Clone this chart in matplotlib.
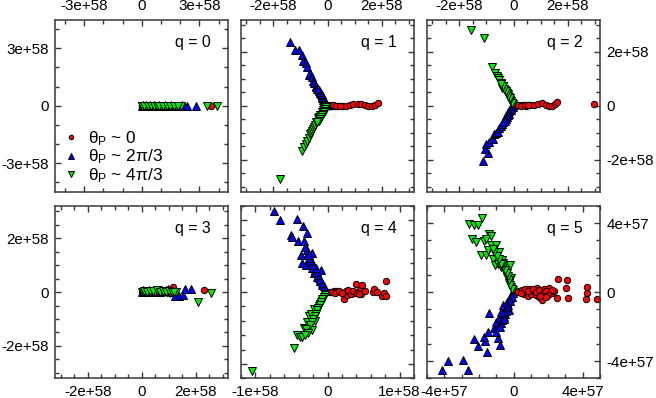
import matplotlib
matplotlib.use('Agg')
import matplotlib.pyplot as plt
from matplotlib.ticker import MultipleLocator, FuncFormatter

plt.rcParams['font.family'] = ['Liberation Sans', 'DejaVu Sans']
plt.rcParams['mathtext.fontset'] = 'custom'
plt.rcParams['mathtext.rm'] = 'Liberation Sans'
plt.rcParams['mathtext.it'] = 'Liberation Sans'
plt.rcParams['mathtext.bf'] = 'Liberation Sans:bold'

# ---- data (units given per panel) ----
q_values = [0, 1, 2, 3, 4, 5]
units = [1e58, 1e58, 1e58, 1e58, 1e58, 1e57]

# q = 0
q0_red_x = [0.0, 0.05, 0.1, 0.15, 0.2, 0.3, 0.4, 0.5, 0.6, 0.75, 0.9, 1.05, 1.2, 1.4, 1.6, 1.8, 3.61,
            0.02, 0.08, 0.25, 0.35, 0.45, 0.55, 0.68, 0.82, 0.97, 1.12, 1.3, 1.5, 1.7, 1.9, 2.0]
q0_red_y = [0.0, 0.01, -0.01, 0.0, 0.01, 0.0, -0.01, 0.01, 0.0, 0.01, 0.0, -0.01, 0.0, 0.01, 0.0, 0.0, 0.0,
            0.01, 0.0, -0.01, 0.01, 0.0, -0.01, 0.0, 0.01, 0.0, -0.01, 0.01, 0.0, -0.01, 0.0, 0.01]
q0_blue_x = [0.02, 0.1, 0.2, 0.35, 0.5, 0.65, 0.8, 1.0, 1.2, 1.4, 1.6, 1.8, 1.95, 2.1, 2.19, 2.37, 2.84,
             0.05, 0.15, 0.27, 0.42, 0.57, 0.72, 0.9, 1.1, 1.3, 1.5, 1.7, 1.88, 2.03]
q0_blue_y = [0.01, 0.0, 0.02, 0.01, 0.0, 0.02, 0.01, 0.0, 0.02, 0.01, 0.0, 0.01, 0.0, 0.02, 0.0, 0.0, 0.01,
             0.02, 0.01, 0.0, 0.02, 0.01, 0.0, 0.02, 0.01, 0.0, 0.02, 0.01, 0.0, 0.01]
q0_green_x = [0.0, 0.08, 0.2, 0.39, 0.55, 0.7, 0.84, 1.0, 1.23, 1.4, 1.54, 1.79, 2.02, 3.37, 3.89,
              0.03, 0.14, 0.3, 0.47, 0.62, 0.77, 0.92, 1.12, 1.32, 1.47, 1.66, 1.9]
q0_green_y = [0.0, -0.01, 0.0, -0.01, 0.0, -0.01, 0.0, -0.01, 0.0, 0.0, -0.01, 0.0, -0.01, 0.0, 0.0,
              -0.01, 0.0, -0.01, 0.0, -0.01, 0.0, -0.01, 0.0, -0.01, 0.0, -0.01, 0.0]

# q = 1
q1_red_x = [0.02, 0.08, 0.15, 0.27, 0.40, 0.54, 0.67, 0.83, 0.95, 1.14, 1.23, 1.38, 1.51, 1.63, 1.75, 1.88,
            0.05, 0.12, 0.20, 0.33, 0.47]
q1_red_y = [0.0, 0.0, 0.0, 0.0, -0.01, -0.01, 0.0, 0.02, 0.05, 0.06, 0.06, 0.04, 0.0, 0.0, 0.02, 0.10,
            0.0, 0.0, 0.01, -0.01, 0.0]
q1_blue_x = [-1.40, -1.19, -1.06, -0.96, -0.89, -0.79, -0.77, -0.69, -0.65, -0.59, -0.53, -0.50, -0.44,
             -0.41, -0.37, -0.33, -0.28, -0.25, -0.22, -0.19, -0.16, -0.13, -0.10, -0.06, -0.03, -0.01,
             -0.04, -0.08, -0.12, -0.15, -0.18, -0.21, -0.24, -0.27, -0.30, -0.35]
q1_blue_y = [2.35, 2.06, 2.06, 1.88, 1.67, 1.57, 1.42, 1.14, 1.20, 1.05, 0.93, 0.85, 0.74,
             0.68, 0.62, 0.55, 0.47, 0.42, 0.35, 0.30, 0.22, 0.18, 0.12, 0.07, 0.04, 0.01,
             0.08, 0.15, 0.22, 0.27, 0.33, 0.40, 0.45, 0.50, 0.57, 0.63]
q1_green_x = [-1.77, -0.94, -0.88, -0.80, -0.74, -0.70, -0.65, -0.60, -0.57, -0.52, -0.49, -0.45,
              -0.42, -0.35, -0.31, -0.27, -0.20, -0.16, -0.12, -0.06, -0.02,
              -0.04, -0.08, -0.11, -0.14, -0.18, -0.22, -0.25, -0.29, -0.33, -0.38]
q1_green_y = [-2.72, -1.67, -1.54, -1.42, -1.30, -1.18, -1.05, -1.00, -0.93, -0.86, -0.78, -0.70,
              -0.62, -0.47, -0.41, -0.35, -0.22, -0.16, -0.10, -0.05, -0.02,
              -0.06, -0.12, -0.18, -0.24, -0.30, -0.36, -0.42, -0.50, -0.55, -0.62]

# q = 2
q2_red_x = [0.03, 0.10, 0.21, 0.36, 0.46, 0.62, 0.77, 0.89, 1.04, 1.20, 1.32, 1.44, 1.53, 1.60, 2.96,
            0.06, 0.15, 0.28, 0.41, 0.54]
q2_red_y = [0.0, 0.0, 0.02, 0.02, 0.0, 0.04, 0.02, 0.06, 0.09, 0.02, -0.02, 0.0, 0.05, 0.15, 0.07,
            0.0, 0.01, 0.0, 0.01, 0.02]
q2_blue_x = [-1.11, -0.96, -1.06, -1.01, -0.90, -0.74, -0.72, -0.65, -0.59, -0.52, -0.47, -0.43,
             -0.35, -0.31, -0.27, -0.20, -0.12, -0.06,
             -0.03, -0.08, -0.10, -0.15, -0.17, -0.22, -0.25, -0.29, -0.33, -0.38]
q2_blue_y = [-2.04, -1.75, -1.60, -1.42, -1.33, -1.23, -1.05, -1.00, -0.96, -0.84, -0.76, -0.68,
             -0.52, -0.45, -0.37, -0.25, -0.12, -0.05,
             -0.04, -0.09, -0.16, -0.20, -0.30, -0.33, -0.42, -0.48, -0.58, -0.62]
q2_green_x = [-1.58, -1.09, -0.80, -0.68, -0.62, -0.57, -0.53, -0.47, -0.42, -0.37, -0.31, -0.27,
              -0.22, -0.16, -0.10, -0.05,
              -0.03, -0.07, -0.12, -0.14, -0.19, -0.24, -0.29, -0.34, -0.40, -0.45]
q2_green_y = [2.81, 2.53, 1.42, 1.23, 1.11, 1.02, 0.96, 0.86, 0.66, 0.72, 0.59, 0.50,
              0.43, 0.31, 0.19, 0.10,
              0.05, 0.12, 0.22, 0.27, 0.36, 0.46, 0.55, 0.63, 0.72, 0.80]

# q = 3
q3_red_x = [0.02, 0.10, 0.20, 0.30, 0.40, 0.55, 0.70, 0.85, 1.00, 1.17, 2.30,
            0.05, 0.15, 0.25, 0.35, 0.48, 0.62, 0.78, 0.92, 1.08]
q3_red_y = [0.0, 0.01, -0.01, 0.02, 0.0, 0.01, 0.03, 0.02, 0.0, 0.19, 0.09,
            0.02, -0.02, 0.03, -0.01, 0.03, -0.02, 0.04, -0.01, 0.05]
q3_blue_x = [0.02, 0.10, 0.20, 0.30, 0.45, 0.60, 0.75, 0.90, 1.00, 1.10, 1.21, 1.36, 1.51, 1.60, 1.83,
             0.05, 0.15, 0.25, 0.38, 0.52, 0.68, 0.82, 0.96, 1.15]
q3_blue_y = [0.02, 0.04, 0.03, 0.05, 0.04, 0.03, 0.06, 0.08, 0.05, 0.02, -0.16, -0.16, -0.12, 0.10, 0.10,
             0.06, 0.0, 0.07, 0.01, 0.08, 0.0, 0.05, 0.10, 0.03]
q3_green_x = [0.0, 0.05, 0.12, 0.25, 0.35, 0.49, 0.60, 0.74, 0.85, 0.95, 1.05, 1.26, 2.07, 2.57,
              0.08, 0.18, 0.30, 0.42, 0.55, 0.67, 0.80, 0.90, 1.00, 1.12, 1.20]
q3_green_y = [0.0, 0.02, -0.01, 0.0, 0.02, 0.0, 0.03, 0.0, 0.05, 0.02, -0.02, 0.0, -0.37, -0.02,
              0.04, 0.01, 0.05, 0.03, 0.06, 0.02, 0.04, 0.0, 0.04, 0.0, 0.02]

# q = 4
q4_red_x = [0.03, 0.09, 0.13, 0.18, 0.23, 0.25, 0.27, 0.30, 0.34, 0.37, 0.39, 0.42, 0.45, 0.48,
            0.47, 0.63, 0.64, 0.68, 0.75, 0.78, 0.81, 0.81,
            0.06, 0.11, 0.16, 0.20, 0.28, 0.32, 0.36, 0.41, 0.44, 0.52]
q4_red_y = [0.0, 0.01, 0.02, 0.0, -0.09, 0.01, -0.04, 0.0, 0.0, -0.02, 0.11, 0.0, 0.03, 0.10,
            -0.03, 0.0, 0.04, 0.0, -0.06, -0.02, -0.06, 0.15,
            0.0, -0.01, 0.02, -0.02, 0.03, -0.03, 0.02, -0.02, -0.03, 0.02]
q4_blue_x = [-0.74, -0.66, -0.42, -0.34, -0.29, -0.51, -0.49, -0.41, -0.33, -0.37, -0.27, -0.22,
             -0.35, -0.30, -0.24, -0.21, -0.19, -0.17, -0.09, -0.14, -0.12, -0.11, -0.07, -0.04, -0.02,
             -0.05, -0.08, -0.10, -0.13, -0.15, -0.16, -0.20, -0.23, -0.26, -0.28, -0.31, -0.25]
q4_blue_y = [1.125, 1.00, 1.01, 0.92, 0.82, 0.79, 0.77, 0.71, 0.71, 0.51, 0.54, 0.55,
             0.40, 0.375, 0.42, 0.33, 0.26, 0.30, 0.30, 0.21, 0.20, 0.15, 0.10, 0.04, 0.02,
             0.08, 0.13, 0.18, 0.24, 0.28, 0.34, 0.38, 0.45, 0.48, 0.58, 0.62, 0.52]
q4_green_x = [-1.05, -0.46, -0.43, -0.38, -0.35, -0.33, -0.21, -0.28, -0.17, -0.26, -0.23, -0.14,
              -0.19, -0.12, -0.10, -0.08, -0.06, -0.03,
              -0.05, -0.07, -0.09, -0.11, -0.13, -0.15, -0.16, -0.18, -0.20, -0.22, -0.24, -0.30, -0.27, -0.31]
q4_green_y = [-1.10, -0.78, -0.60, -0.62, -0.625, -0.50, -0.53, -0.41, -0.40, -0.34, -0.30, -0.27,
              -0.23, -0.20, -0.16, -0.12, -0.09, -0.04,
              -0.07, -0.10, -0.14, -0.18, -0.22, -0.25, -0.30, -0.33, -0.37, -0.42, -0.46, -0.52, -0.57, -0.60]

# q = 5
q5_red_x = [0.10, 0.33, 0.52, 0.58, 0.71, 0.81, 0.90, 1.00, 1.19, 1.29, 1.38, 1.48, 1.58, 1.67, 1.77,
            1.96, 2.06, 2.15, 2.25, 2.35, 2.54, 2.60, 3.02, 3.08, 3.17, 4.21, 4.23, 4.27, 4.81,
            0.20, 0.45, 0.65, 0.85, 1.10, 1.30, 1.45, 1.70, 1.85, 2.00, 2.20, 1.55, 1.90]
q5_red_y = [0.0, 0.06, 0.12, -0.13, 0.02, -0.21, 0.17, -0.13, 0.06, -0.17, 0.21, -0.27, 0.02, -0.46, 0.17,
            -0.13, 0.25, 0.02, -0.08, 0.06, -0.37, 0.75, 0.21, 0.67, -0.33, -0.38, -0.04, 0.31, -0.42,
            0.03, -0.05, 0.15, 0.05, 0.15, 0.03, 0.10, -0.05, 0.08, -0.15, 0.12, -0.20, -0.30]
q5_blue_x = [-4.15, -3.81, -2.94, -2.65, -2.31, -2.08, -1.65, -1.54, -1.73, -1.50, -0.92, -0.77,
             -1.40, -1.12, -0.92, -1.02, -0.83, -0.73, -0.54, -0.63, -0.44, -0.35, -0.25, -0.19, -0.12, -0.05,
             -0.10, -0.20, -0.30, -0.38, -0.45, -0.50, -0.60, -0.65, -0.70, -0.80, -0.55, -1.00]
q5_blue_y = [-4.50, -3.98, -3.92, -4.50, -2.71, -3.10, -2.83, -3.48, -2.58, -2.33, -2.67, -3.06,
             -1.23, -2.10, -1.90, -1.71, -1.52, -1.13, -1.42, -0.75, -0.94, -0.56, -1.04, -0.37, -0.17, -0.06,
             -0.30, -0.50, -0.75, -0.85, -1.10, -1.25, -1.30, -1.60, -1.80, -2.00, -1.55, -2.30]
q5_green_x = [-1.83, -2.60, -2.31, -2.08, -1.44, -1.31, -2.40, -2.17, -1.73, -1.60, -1.31, -1.02,
              -1.85, -1.60, -1.46, -1.21, -0.83, -1.08, -0.92, -0.73, -0.69, -0.44, -0.54, -0.19,
              -0.35, -0.12, -0.25, -0.12, -0.04,
              -0.10, -0.18, -0.25, -0.30, -0.40, -0.48, -0.58, -0.62, -0.75, -0.85, -0.95, -1.10, -1.20]
q5_green_y = [4.29, 3.94, 3.90, 3.90, 3.35, 3.23, 3.10, 2.90, 2.94, 3.06, 2.71, 2.71,
              2.13, 2.13, 2.42, 1.94, 2.33, 1.56, 1.65, 1.46, 1.85, 1.56, 1.27, 1.56,
              0.88, 0.79, 0.50, 0.31, 0.12,
              0.20, 0.40, 0.70, 0.95, 1.10, 1.30, 1.50, 1.70, 1.60, 1.90, 2.10, 2.30, 2.50]

red_x = [q0_red_x, q1_red_x, q2_red_x, q3_red_x, q4_red_x, q5_red_x]
red_y = [q0_red_y, q1_red_y, q2_red_y, q3_red_y, q4_red_y, q5_red_y]
blue_x = [q0_blue_x, q1_blue_x, q2_blue_x, q3_blue_x, q4_blue_x, q5_blue_x]
blue_y = [q0_blue_y, q1_blue_y, q2_blue_y, q3_blue_y, q4_blue_y, q5_blue_y]
green_x = [q0_green_x, q1_green_x, q2_green_x, q3_green_x, q4_green_x, q5_green_x]
green_y = [q0_green_y, q1_green_y, q2_green_y, q3_green_y, q4_green_y, q5_green_y]

legend_labels = [r'$\theta_P$ ~ 0', r'$\theta_P$ ~ 2$\pi$/3', r'$\theta_P$ ~ 4$\pi$/3']

# ---- layout ----
limits = [4.5e58, 3.2e58, 3.2e58, 3.2e58, 1.2e58, 5e57]
major = [3e58, 2e58, 2e58, 2e58, 1e58, 4e57]
minor = [1e58, 0.5e58, 0.5e58, 0.5e58, 0.2e58, 1e57]

W, H = 656, 398
lefts = [55.3, 241, 427]
tops = [19.5, 205.8]
pw, ph = 173, 172.5

FRAME = '#383838'


def make_fmt(step):
    return FuncFormatter(lambda v, p: '0' if abs(v) < 1e-3 * step else '%g' % v)


fig = plt.figure(figsize=(W / 100, H / 100), dpi=100)

for i, q in enumerate(q_values):
    row, col = divmod(i, 3)
    ax = fig.add_axes([lefts[col] / W, 1 - (tops[row] + ph) / H, pw / W, ph / H])
    u = units[i]

    ax.plot([x * u for x in red_x[i]], [y * u for y in red_y[i]], 'o', color='#ff0000',
            mec='black', mew=0.7, ms=4.6, label=legend_labels[0])
    ax.plot([x * u for x in blue_x[i]], [y * u for y in blue_y[i]], '^', color='#0000ff',
            mec='black', mew=0.7, ms=5.8, label=legend_labels[1])
    ax.plot([x * u for x in green_x[i]], [y * u for y in green_y[i]], 'v', color='#00ee00',
            mec='black', mew=0.7, ms=5.8, label=legend_labels[2])

    lim = limits[i]
    ax.set_xlim(-lim, lim)
    ax.set_ylim(-lim, lim)
    for axis in (ax.xaxis, ax.yaxis):
        axis.set_major_locator(MultipleLocator(major[i]))
        axis.set_minor_locator(MultipleLocator(minor[i]))
        axis.set_major_formatter(make_fmt(major[i]))

    for s in ax.spines.values():
        s.set_color(FRAME)
        s.set_linewidth(1.1)

    ax.tick_params(which='both', direction='in', top=True, bottom=True, left=True, right=True,
                   color=FRAME, width=1.0, labelsize=10.9, pad=4.5)
    ax.tick_params(which='major', length=4.3)
    ax.tick_params(which='minor', length=2.8)
    ax.tick_params(axis='x', labeltop=(row == 0), labelbottom=(row == 1))
    ax.tick_params(axis='y', labelleft=(col == 0), labelright=(col == 2))

    ax.text(0.9, 0.866, 'q = %d' % q, transform=ax.transAxes, ha='right', va='center', fontsize=11.4)

    if i == 0:
        ax.legend(loc='lower left', frameon=False, fontsize=12.4, handlelength=0.8,
                  handletextpad=0.6, labelspacing=0.0, borderaxespad=0.0, borderpad=0.0,
                  markerscale=0.7, bbox_to_anchor=(0.05, 0.04))

fig.savefig('out.png', dpi=100)
